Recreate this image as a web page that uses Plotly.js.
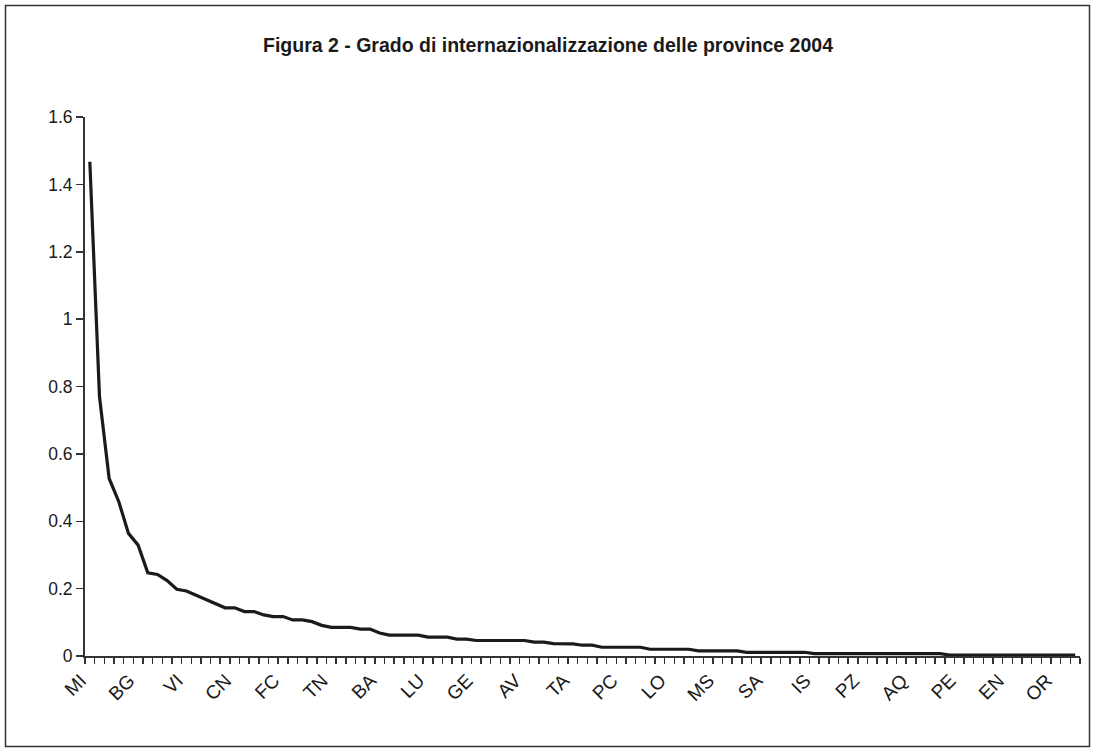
<!DOCTYPE html>
<html>
<head>
<meta charset="utf-8">
<script src="https://cdn.plot.ly/plotly-3.0.1.min.js"></script>
<style>
  html, body { margin: 0; padding: 0; background: #ffffff; }
  #chart { width: 1096px; height: 753px; }
</style>
</head>
<body>
<div id="chart"></div>
<script>
// Province rank positions (0 = first province) and the grade of internationalisation
var values = [
  1.467, 0.770, 0.527, 0.458, 0.364, 0.329, 0.247, 0.242, 0.224, 0.198,
  0.193, 0.181, 0.169, 0.156, 0.143, 0.143, 0.132, 0.132, 0.122, 0.117,
  0.117, 0.107, 0.107, 0.102, 0.091, 0.085, 0.085, 0.085, 0.080, 0.080,
  0.068, 0.062, 0.062, 0.062, 0.062, 0.056, 0.056, 0.056, 0.050, 0.050,
  0.046, 0.046, 0.046, 0.046, 0.046, 0.046, 0.041, 0.041, 0.037, 0.037,
  0.036, 0.032, 0.032, 0.026, 0.026, 0.026, 0.026, 0.026, 0.020, 0.020,
  0.020, 0.020, 0.020, 0.015, 0.015, 0.015, 0.015, 0.015, 0.011, 0.011,
  0.011, 0.011, 0.011, 0.011, 0.011, 0.007, 0.007, 0.007, 0.007, 0.007,
  0.007, 0.007, 0.007, 0.007, 0.007, 0.007, 0.007, 0.007, 0.007, 0.003,
  0.003, 0.003, 0.003, 0.003, 0.003, 0.003, 0.003, 0.003, 0.003, 0.003,
  0.003, 0.003, 0.003
];
// Labelled provinces (every fifth position on the axis)
var tickLabels = ['MI','BG','VI','CN','FC','TN','BA','LU','GE','AV','TA',
                  'PC','LO','MS','SA','IS','PZ','AQ','PE','EN','OR'];
var labelStep = 5;
var titleText = 'Figura 2 - Grado di internazionalizzazione delle province 2004';
var yTicks = [0, 0.2, 0.4, 0.6, 0.8, 1, 1.2, 1.4, 1.6];

var positions = values.map(function (v, i) { return i; });
var tickPositions = tickLabels.map(function (l, i) { return i * labelStep; });

var trace = {
  x: positions,
  y: values,
  type: 'scatter',
  mode: 'lines',
  line: { color: '#1a1a1a', width: 3.2 },
  hoverinfo: 'x+y'
};

var font = 'Arial, "Liberation Sans", sans-serif';

var layout = {
  width: 1096,
  height: 753,
  paper_bgcolor: '#ffffff',
  plot_bgcolor: '#ffffff',
  margin: { l: 85, r: 16, t: 117, b: 97 },
  showlegend: false,
  title: {
    text: '<b>' + titleText + '</b>',
    font: { family: font, size: 19.5, color: '#1a1a1a' },
    x: 0.5, xref: 'container', xanchor: 'center',
    y: 1 - 45 / 753, yref: 'container', yanchor: 'middle'
  },
  xaxis: {
    range: [-0.5, values.length - 0.5],
    tickmode: 'array',
    tickvals: tickPositions,
    ticktext: tickLabels,
    tickangle: -45,
    ticks: '',
    ticklabelstandoff: 4,
    ticklabelshift: -9,
    showgrid: false,
    zeroline: false,
    showline: true,
    linecolor: '#333333',
    linewidth: 2,
    tickfont: { family: font, size: 19, color: '#1a1a1a' },
    minor: {
      tickmode: 'linear',
      tick0: -0.5,
      dtick: 1,
      ticks: 'outside',
      ticklen: 6,
      tickwidth: 1.5,
      tickcolor: '#333333',
      showgrid: false
    },
    fixedrange: true
  },
  yaxis: {
    range: [0, 1.6],
    tickmode: 'array',
    tickvals: yTicks,
    ticktext: yTicks.map(function (v) { return String(v); }),
    ticks: 'outside',
    ticklen: 7,
    tickwidth: 1.5,
    tickcolor: '#333333',
    showgrid: false,
    zeroline: false,
    showline: true,
    linecolor: '#333333',
    linewidth: 2,
    tickfont: { family: font, size: 17.5, color: '#1a1a1a' },
    fixedrange: true
  },
  shapes: [{
    type: 'rect',
    xref: 'paper', yref: 'paper',
    x0: (5.5 - 85) / 995, x1: (1089.5 - 85) / 995,
    y0: (656 - 746.5) / 539, y1: (656 - 5.5) / 539,
    line: { color: '#333333', width: 1.5 },
    fillcolor: 'rgba(0,0,0,0)',
    layer: 'below'
  }]
};

Plotly.newPlot('chart', [trace], layout, { displayModeBar: false, staticPlot: true });
</script>
</body>
</html>
